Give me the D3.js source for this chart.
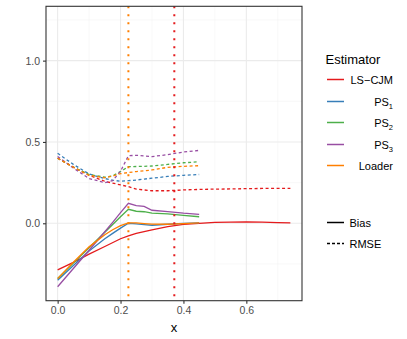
<!DOCTYPE html>
<html>
<head>
<meta charset="utf-8">
<script src="https://cdn.jsdelivr.net/npm/d3@7"></script>
<style>
  body { margin: 0; background: #fff; }
  svg text { font-family: "Liberation Sans", Arial, sans-serif; }
</style>
</head>
<body>
<div id="chart"></div>
<script>
// estimators and colours (Set1)
var estimators = ["LS-CJM", "PS1", "PS2", "PS3", "Loader"];
var colors = ["#E41A1C", "#377EB8", "#4DAF4A", "#984EA3", "#FF7F00"];

// x grid for the LS-CJM series
var xLS = [0, 0.05, 0.1, 0.15, 0.2, 0.225, 0.25, 0.3, 0.35, 0.4, 0.45, 0.5, 0.55, 0.6, 0.65, 0.7, 0.74];
var biasLS = [-0.287, -0.24, -0.19, -0.143, -0.095, -0.078, -0.062, -0.041, -0.02, -0.007, 0.0, 0.005, 0.007, 0.008, 0.007, 0.004, 0.002];
var rmseLS = [0.40, 0.345, 0.295, 0.258, 0.236, 0.225, 0.21, 0.2, 0.2, 0.205, 0.208, 0.21, 0.211, 0.213, 0.214, 0.215, 0.215];

// x grid for PS1, PS2, PS3, Loader
var xPS = [0, 0.05, 0.1, 0.15, 0.175, 0.2, 0.225, 0.25, 0.275, 0.3, 0.35, 0.4, 0.45];
var biasPS1 = [-0.35, -0.26, -0.17, -0.095, -0.062, -0.03, 0.0, -0.004, -0.008, -0.012, -0.006, -0.001, 0.002];
var rmsePS1 = [0.43, 0.362, 0.303, 0.275, 0.265, 0.258, 0.262, 0.266, 0.272, 0.277, 0.288, 0.295, 0.30];
var biasPS2 = [-0.34, -0.245, -0.15, -0.055, -0.008, 0.04, 0.086, 0.074, 0.071, 0.063, 0.058, 0.048, 0.04];
var rmsePS2 = [0.40, 0.345, 0.30, 0.283, 0.292, 0.318, 0.348, 0.349, 0.35, 0.352, 0.362, 0.372, 0.378];
var biasPS3 = [-0.39, -0.278, -0.166, -0.052, 0.006, 0.065, 0.123, 0.108, 0.104, 0.08, 0.072, 0.062, 0.055];
var rmsePS3 = [0.41, 0.34, 0.275, 0.25, 0.262, 0.32, 0.415, 0.418, 0.414, 0.41, 0.422, 0.438, 0.448];
var biasLoader = [-0.34, -0.24, -0.145, -0.07, -0.04, -0.015, 0.003, 0.002, -0.002, -0.005, -0.006, -0.002, 0.003];
var rmseLoader = [0.40, 0.345, 0.295, 0.28, 0.29, 0.305, 0.312, 0.318, 0.322, 0.328, 0.344, 0.35, 0.354];

// vertical reference lines
var vlineX = [0.225, 0.371];
var vlineColors = ["#FF7F00", "#E41A1C"];

var xTicks = [0, 0.2, 0.4, 0.6];
var yTicks = [0, 0.5, 1.0];
var xMinor = [0.1, 0.3, 0.5, 0.7];
var yMinor = [-0.25, 0.25, 0.75, 1.25];

var width = 407, height = 339;
var panel = { left: 46, right: 302, top: 6.3, bottom: 300.7 };

var svg = d3.select("#chart").append("svg")
  .attr("width", width).attr("height", height);

var x = d3.scaleLinear().domain([-0.037, 0.777]).range([panel.left, panel.right]);
var y = d3.scaleLinear().domain([-0.476, 1.334]).range([panel.bottom, panel.top]);

// grid
var grid = svg.append("g");
grid.selectAll(".xminor").data(xMinor).enter().append("line")
  .attr("x1", d => x(d)).attr("x2", d => x(d))
  .attr("y1", panel.top).attr("y2", panel.bottom)
  .attr("stroke", "#F2F2F2").attr("stroke-width", 0.55);
grid.selectAll(".yminor").data(yMinor).enter().append("line")
  .attr("y1", d => y(d)).attr("y2", d => y(d))
  .attr("x1", panel.left).attr("x2", panel.right)
  .attr("stroke", "#F2F2F2").attr("stroke-width", 0.55);
grid.selectAll(".xmajor").data(xTicks).enter().append("line")
  .attr("x1", d => x(d)).attr("x2", d => x(d))
  .attr("y1", panel.top).attr("y2", panel.bottom)
  .attr("stroke", "#EBEBEB").attr("stroke-width", 1.1);
grid.selectAll(".ymajor").data(yTicks).enter().append("line")
  .attr("y1", d => y(d)).attr("y2", d => y(d))
  .attr("x1", panel.left).attr("x2", panel.right)
  .attr("stroke", "#EBEBEB").attr("stroke-width", 1.1);

// series
var series = [
  { est: 0, xs: xLS, bias: biasLS, rmse: rmseLS },
  { est: 1, xs: xPS, bias: biasPS1, rmse: rmsePS1 },
  { est: 2, xs: xPS, bias: biasPS2, rmse: rmsePS2 },
  { est: 3, xs: xPS, bias: biasPS3, rmse: rmsePS3 },
  { est: 4, xs: xPS, bias: biasLoader, rmse: rmseLoader }
];

var line = d3.line().x(d => x(d[0])).y(d => y(d[1]));
var plot = svg.append("g");

series.forEach(function (s) {
  var b = s.xs.map((v, i) => [v, s.bias[i]]);
  var r = s.xs.map((v, i) => [v, s.rmse[i]]);
  plot.append("path").attr("d", line(b))
    .attr("fill", "none").attr("stroke", colors[s.est]).attr("stroke-width", 1.3);
  plot.append("path").attr("d", line(r))
    .attr("fill", "none").attr("stroke", colors[s.est]).attr("stroke-width", 1.3)
    .attr("stroke-dasharray", "3,2.5");
});

// vertical dotted lines
plot.selectAll(".vline").data(vlineX).enter().append("line")
  .attr("x1", d => x(d)).attr("x2", d => x(d))
  .attr("y1", panel.top).attr("y2", panel.bottom)
  .attr("stroke", (d, i) => vlineColors[i])
  .attr("stroke-width", 2).attr("stroke-dasharray", "2,6");

// panel border
svg.append("rect")
  .attr("x", panel.left).attr("y", panel.top)
  .attr("width", panel.right - panel.left).attr("height", panel.bottom - panel.top)
  .attr("fill", "none").attr("stroke", "#333333").attr("stroke-width", 1.1);

// axes
var xAxis = svg.append("g").attr("transform", "translate(0," + panel.bottom + ")")
  .call(d3.axisBottom(x).tickValues(xTicks).tickFormat(d3.format(".1f")).tickSize(3).tickPadding(3));
var yAxis = svg.append("g").attr("transform", "translate(" + panel.left + ",0)")
  .call(d3.axisLeft(y).tickValues(yTicks).tickFormat(d3.format(".1f")).tickSize(3).tickPadding(3));
[xAxis, yAxis].forEach(function (a) {
  a.select(".domain").remove();
  a.selectAll(".tick line").attr("stroke", "#333333").attr("stroke-width", 1.1);
  a.selectAll(".tick text").attr("fill", "#4D4D4D").style("font-size", "10.5px")
    .style("font-family", "'Liberation Sans', Arial, sans-serif");
});

svg.append("text").attr("x", (panel.left + panel.right) / 2).attr("y", 332)
  .attr("text-anchor", "middle").style("font-size", "13px").attr("fill", "#000").text("x");

// legend
var legend = svg.append("g");
legend.append("text").attr("x", 325.5).attr("y", 63.5)
  .style("font-size", "13px").attr("fill", "#000").text("Estimator");

var keyY = [79.5, 101.5, 122.5, 144.5, 165.5];
estimators.forEach(function (e, i) {
  legend.append("line").attr("x1", 327).attr("x2", 344)
    .attr("y1", keyY[i]).attr("y2", keyY[i])
    .attr("stroke", colors[i]).attr("stroke-width", 1.5);
  var t = legend.append("text").attr("x", 393).attr("y", keyY[i] + 4)
    .attr("text-anchor", "end").style("font-size", "11px").attr("fill", "#000");
  if (e.indexOf("PS") === 0) {
    t.append("tspan").text("PS");
    t.append("tspan").attr("dy", 3).style("font-size", "7.5px").text(e.slice(2));
  } else {
    t.text(e.replace("-", "\u2212"));
  }
});

var types = ["Bias", "RMSE"];
var typeY = [222.5, 243.5];
types.forEach(function (tp, i) {
  var l = legend.append("line").attr("x1", 327).attr("x2", 344)
    .attr("y1", typeY[i]).attr("y2", typeY[i])
    .attr("stroke", "#000").attr("stroke-width", 1.5);
  if (i === 1) l.attr("stroke-dasharray", "3,2");
  legend.append("text").attr("x", 349.5).attr("y", typeY[i] + 4)
    .style("font-size", "11px").attr("fill", "#000").text(tp);
});
</script>
</body>
</html>
